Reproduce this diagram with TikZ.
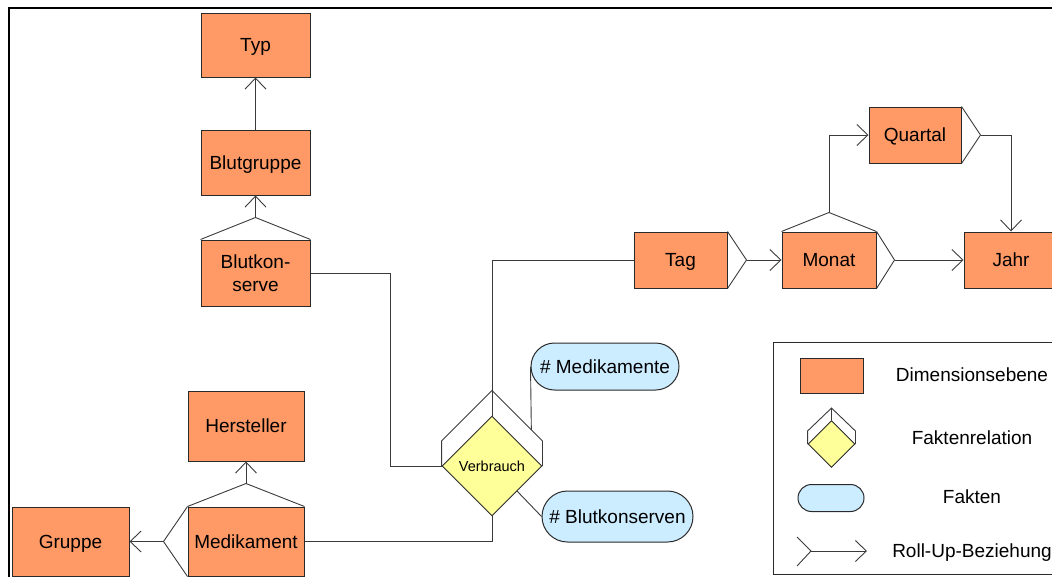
\documentclass[tikz,border=0pt]{standalone}
\usepackage{fontspec}
\setmainfont{Liberation Sans}
\usetikzlibrary{arrows.meta,shapes.geometric,shapes.misc,calc}
\definecolor{dimfill}{HTML}{FF9966}
\definecolor{factfill}{HTML}{FFFF99}
\definecolor{measfill}{HTML}{CCECFF}
\definecolor{edge}{HTML}{2A2A2A}
\definecolor{wire}{HTML}{3A3A3A}
\begin{document}
\begin{tikzpicture}[x=1pt,y=-1pt,
  every node/.style={font=\fontsize{19}{23}\selectfont, inner sep=0pt, text=black},
  oneline/.style={text height=13.6pt, text depth=0pt},
  dimbox/.style={draw=edge, line width=1pt, fill=dimfill, rectangle, align=center},
  factrel/.style={draw=edge, line width=0.9pt, fill=factfill, diamond, aspect=1},
  measure/.style={draw=edge, line width=1pt, fill=measfill, rounded rectangle, oneline},
  link/.style={draw=wire, line width=0.9pt},
  rollup/.style={link, -{Straight Barb[length=11pt,width=21pt,line width=0.9pt]}}]
\useasboundingbox (0,0) rectangle (1052,576);

% frame
\draw[line width=2.5pt, black] (9,580) -- (9,8) -- (1060,8);

% dimension levels
\node[dimbox, oneline, minimum width=109pt, minimum height=64pt] (typ) at (255.5,45) {Typ};
\node[dimbox, oneline, minimum width=109pt, minimum height=65pt] (blutgruppe) at (255.5,162.5) {Blutgruppe};
\node[dimbox, minimum width=109pt, minimum height=66pt] (blutkonserve) at (255.5,273) {Blutkon-\\serve};
\node[dimbox, oneline, minimum width=116pt, minimum height=70pt] (hersteller) at (246,426) {Hersteller};
\node[dimbox, oneline, minimum width=116pt, minimum height=69pt] (medikament) at (246,541.5) {Medikament};
\node[dimbox, oneline, minimum width=117pt, minimum height=69pt] (gruppe) at (70.5,541.5) {Gruppe};
\node[dimbox, oneline, minimum width=93pt, minimum height=56pt] (tag) at (680.5,260) {Tag};
\node[dimbox, oneline, minimum width=94pt, minimum height=56pt] (monat) at (829,260) {Monat};
\node[dimbox, oneline, minimum width=92pt, minimum height=56pt] (quartal) at (915,135) {Quartal};
\node[dimbox, oneline, minimum width=94pt, minimum height=56pt] (jahr) at (1011,260) {Jahr};

% fact relation with its cube roof
\node[factrel, minimum width=100pt, minimum height=100pt, font=\fontsize{14.5}{17}\selectfont,
  text height=10.4pt, text depth=0pt] (verbrauch) at (492,466) {Verbrauch};
\draw[link] (verbrauch.west) -- ++(0,-25) -- ($(verbrauch.north)+(0,-25)$) coordinate (vbtop)
  -- ($(verbrauch.east)+(0,-25)$) coordinate (vbre) -- (verbrauch.east);
\draw[link] (vbtop) -- (verbrauch.north);

% facts
\node[measure, minimum width=148pt, minimum height=47pt] (mfact) at (605,366.5) {\# Medikamente};
\node[measure, minimum width=151pt, minimum height=51pt] (bfact) at (617.5,516.5) {\# Blutkonserven};
\draw[link] (mfact.west) -- ($(vbtop)!0.78!(vbre)$);
\draw[link] ($(verbrauch.east)!0.5!(verbrauch.south)$) -- (bfact.west);

% links to the fact relation
\draw[link] (blutkonserve.east) -- ++(80,0) |- (verbrauch.west);
\draw[link] (tag.west) -| (vbtop);
\draw[link] (medikament.east) -| (verbrauch.south);

% roll-up forks
\draw[link] (blutkonserve.north west) -- ($(blutkonserve.north)+(0,-22)$) coordinate (bktop) -- (blutkonserve.north east);
\draw[link] (medikament.north west) -- ($(medikament.north)+(0,-23)$) coordinate (medtop) -- (medikament.north east);
\draw[link] (medikament.north west) -- ($(medikament.west)+(-24,0)$) coordinate (medleft) -- (medikament.south west);
\draw[link] (tag.north east) -- ($(tag.east)+(19,0)$) coordinate (tagright) -- (tag.south east);
\draw[link] (monat.north west) -- ($(monat.north)+(0,-19)$) coordinate (motop) -- (monat.north east);
\draw[link] (monat.north east) -- ($(monat.east)+(18,0)$) coordinate (moright) -- (monat.south east);
\draw[link] (quartal.north east) -- ($(quartal.east)+(19,0)$) coordinate (quright) -- (quartal.south east);

% roll-up arrows
\draw[rollup] (bktop) -- (blutgruppe.south);
\draw[rollup] (blutgruppe.north) -- (typ.south);
\draw[rollup] (medtop) -- (hersteller.south);
\draw[rollup] (medleft) -- (gruppe.east);
\draw[rollup] (tagright) -- (monat.west);
\draw[rollup] (motop) |- (quartal.west);
\draw[rollup] (moright) -- (jahr.west);
\draw[rollup] (quright) -| (jahr.north);

% legend
\draw[draw=edge, line width=1pt] (773,342) rectangle (1070,574);
\node[dimbox, minimum width=63pt, minimum height=35pt] (lgdim) at (831.5,375.5) {};
\node[factrel, minimum width=47pt, minimum height=47pt] (lgrel) at (831.5,444) {};
\draw[link] (lgrel.west) -- ++(0,-13) -- ($(lgrel.north)+(0,-12)$) coordinate (lgtop)
  -- ($(lgrel.east)+(0,-13)$) -- (lgrel.east);
\draw[link] (lgtop) -- (lgrel.north);
\node[measure, minimum width=66pt, minimum height=27pt] (lgfact) at (831,498) {};
\coordinate (lgforka) at (797,537);
\coordinate (lgfork) at (811,551);
\coordinate (lgforkb) at (797,566);
\coordinate (lgend) at (867,551);
\draw[link] (lgforka) -- (lgfork) -- (lgforkb);
\draw[rollup] (lgfork) -- (lgend);
\node[oneline] (tdim) at (972,375) {Dimensionsebene};
\node[oneline] (trel) at (972,438) {Faktenrelation};
\node[oneline] (tfact) at (972,497) {Fakten};
\node[oneline] (troll) at (972,551) {Roll-Up-Beziehung};
\end{tikzpicture}
\end{document}
